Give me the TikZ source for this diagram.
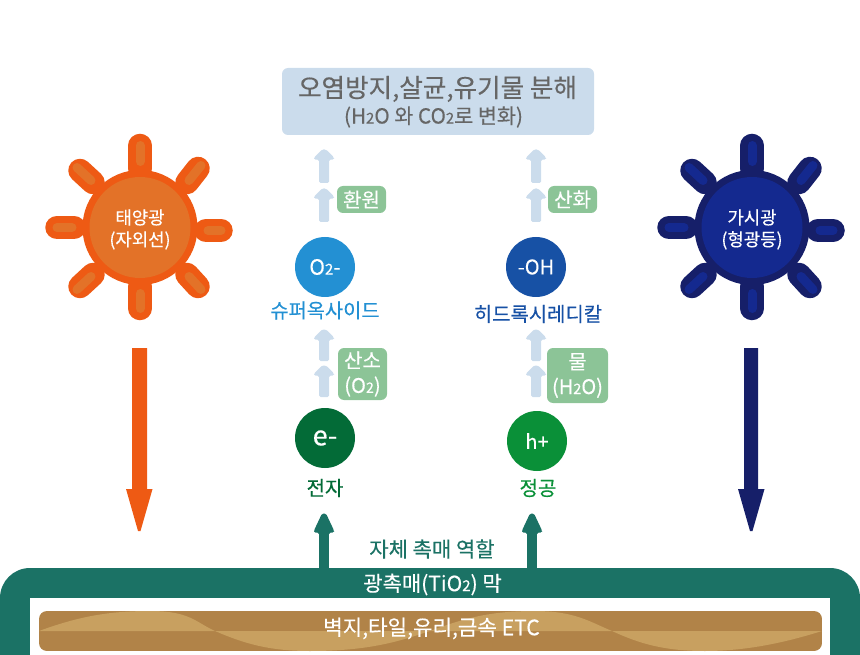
\documentclass[tikz,border=0pt]{standalone}
\usepackage{fontspec}
\setmainfont[FakeBold=0.3]{Noto Sans CJK KR}
\definecolor{sunD}{HTML}{EE5A14}
\definecolor{sunL}{HTML}{E37228}
\definecolor{navD}{HTML}{161F69}
\definecolor{navL}{HTML}{14298F}
\definecolor{film}{HTML}{1B7265}
\definecolor{brownD}{HTML}{B18348}
\definecolor{brownL}{HTML}{C8A060}
\definecolor{pale}{HTML}{CBDCEC}
\definecolor{tagG}{HTML}{8CC497}
\definecolor{grayT}{HTML}{666666}
\definecolor{oTwo}{HTML}{2390D3}
\definecolor{oH}{HTML}{1751A5}
\definecolor{eDark}{HTML}{036B37}
\definecolor{hGreen}{HTML}{0A9038}
\newcommand{\subt}[1]{{\fontsize{0.72em}{1em}\selectfont #1}}
\newcommand{\sunshape}[3]{%
  \begin{scope}[shift={(#1,227.5)}]
    \foreach \a/\b/\c/\d in {0/-82/0/-59, 0/81/0/59, -83/0/-66/0, 81/3/66/3, -60/-57/-47/-45, 58/-59/47/-45, -60/59/-47/47, 58/59/47/47}{
      \draw[line width=23.5pt,line cap=round,#2] (\a,\b) -- (\c,\d);
    }
    \foreach \a/\b/\c/\d in {0/-82/0/-66, 0/81/0/66, -83/0/-68/0, 81/3/68/3, -63/-60/-49/-47, 61/-62/49/-47, -63/62/-49/49, 61/62/49/49}{
      \draw[line width=9pt,line cap=round,#3] (\a,\b) -- (\c,\d);
    }
    \fill[#2] (0,0) circle (57.5);
    \fill[#3] (0,0) circle (50.5);
  \end{scope}}
\newcommand{\uparr}[5]{% x tip base bottom colour
  \fill[#5,rounded corners=1.5pt] (#1-2,#2+0.5) -- (#1+2,#2+0.5) -- (#1+10,#3-1.5) -- (#1+10,#3+0.6) -- (#1+5,#3+0.6) -- (#1+5,#4) -- (#1-5,#4) -- (#1-5,#3+0.6) -- (#1-10,#3+0.6) -- (#1-10,#3-1.5) -- cycle;}
\tikzset{
  x=1pt,y=-1pt,
  txt/.style={inner sep=0,align=center,font=\fontsize{#1}{#1}\selectfont},
  txt/.default=18pt,
  tagbox/.style={fill=tagG,rounded corners=6pt,inner sep=0},
}
\begin{document}
\begin{tikzpicture}
\useasboundingbox (0,0) rectangle (860,655);
% bottom film
\fill[film] (0,655) -- (0,598) .. controls (0,581.4) and (13.4,568) .. (30,568) -- (830,568) .. controls (846.6,568) and (860,581.4) .. (860,598) -- (860,655) -- cycle;
\fill[white] (30,598) rectangle (830,655);
\fill[film] (319,530) rectangle (329,570);
\fill[film] (527,530) rectangle (537,570);
% brown plate
\begin{scope}
  \path[clip,rounded corners=8pt] (39,611) rectangle (822,651);
  \fill[brownD] (39,611) rectangle (822,651);
  \fill[brownL] (39,631) .. controls (80,616) and (110,611) .. (150,611) .. controls (190,611) and (195,622) .. (215,631) -- cycle;
  \fill[brownL] (215,631) .. controls (245,644) and (270,651) .. (310,651) .. controls (370,651) and (400,641) .. (430,631) -- cycle;
  \fill[brownL] (430,631) .. controls (465,618) and (490,611) .. (535,611) .. controls (575,611) and (590,622) .. (612,631) -- cycle;
  \fill[brownL] (612,631) .. controls (640,644) and (665,651) .. (705,651) .. controls (750,651) and (790,641) .. (822,631) -- cycle;
\end{scope}
% suns
\sunshape{140}{sunD}{sunL}
\sunshape{752}{navD}{navL}
\node[txt=17.8pt,text=white] (solar) at (140,229.5) {태양광\\[4pt](자외선)};
\node[txt=17.8pt,text=white] (visible) at (752,229.5) {가시광\\[4pt](형광등)};
% big arrows
\fill[sunD] (132,348) -- (147,348) -- (147,489) -- (152.5,489) -- (140.5,531) to[bend left=40] (138,531) -- (126,489) -- (132,489) -- cycle;
\fill[navD] (744,348) -- (758,348) -- (758,489) -- (764.5,489) -- (752.5,531) to[bend left=40] (750,531) -- (738,489) -- (744,489) -- cycle;
% top box
\node[fill=pale,rounded corners=6pt,minimum width=312pt,minimum height=67pt,inner sep=0] (goal) at (438,101.5) {};
\node[txt=25.6pt,text=grayT] (goalA) at (437.5,89) {오염방지,살균,유기물 분해};
\node[txt=20.7pt,text=grayT] (goalB) at (433.5,117) {(H\subt{2}O 와 CO\subt{2}로 변화)};
% pale arrows
\uparr{324}{149}{159}{183}{pale}
\uparr{324}{188}{198}{222}{pale}
\uparr{536}{149}{159}{183}{pale}
\uparr{536}{188}{198}{222}{pale}
\uparr{324}{329}{339}{361}{pale}
\uparr{324}{365}{375}{397}{pale}
\uparr{536}{329}{339}{361}{pale}
\uparr{536}{365}{375}{397}{pale}
% tags
\node[tagbox,minimum width=49pt,minimum height=27pt,text=white,font=\fontsize{20}{20}\selectfont] (t1) at (361.5,199.5) {환원};
\node[tagbox,minimum width=49pt,minimum height=27pt,text=white,font=\fontsize{20}{20}\selectfont] (t2) at (572.5,199.5) {산화};
\node[tagbox,minimum width=49pt,minimum height=52pt,text=white,align=center,font=\fontsize{20}{25}\selectfont] (t3) at (362.5,374) {산소\\(O\subt{2})};
\node[tagbox,minimum width=61pt,minimum height=55pt,text=white,align=center,font=\fontsize{20}{25}\selectfont] (t4) at (577.5,375.5) {물\\(H\subt{2}O)};
% circles
\node[circle,fill=oTwo,minimum size=60pt,inner sep=0,text=white,font=\fontsize{21}{21}\selectfont] (o2) at (325,267) {O\subt{2}-};
\node[circle,fill=oH,minimum size=60pt,inner sep=0,text=white,font=\fontsize{20}{20}\selectfont] (oh) at (536,267) {-OH};
\node[circle,fill=eDark,minimum size=60pt,inner sep=0,text=white,font=\fontsize{27}{27}\selectfont] (e) at (325,438) {e-};
\node[circle,fill=hGreen,minimum size=60pt,inner sep=0,text=white,font=\fontsize{20}{20}\selectfont] (h) at (537,441) {h+};
% labels
\node[txt=19.8pt,text=oTwo] (l1) at (325,310.5) {슈퍼옥사이드};
\node[txt=19.9pt,text=oH] (l2) at (538,314) {히드록시레디칼};
\node[txt=20pt,text=eDark] (l3) at (325,488) {전자};
\node[txt=20pt,text=hGreen] (l4) at (538,488) {정공};
% film arrows heads
\uparr{324}{513}{532}{533}{film}
\uparr{532}{513}{532}{533}{film}
\node[txt=21pt,text=film] (self) at (432,549) {자체 촉매 역할};
\node[txt=21pt,text=white] (tio) at (432.5,584.5) {광촉매(TiO\subt{2}) 막};
\node[txt=21.2pt,text=white] (sub) at (431.5,628.5) {벽지,타일,유리,금속 ETC};
\end{tikzpicture}
\end{document}
